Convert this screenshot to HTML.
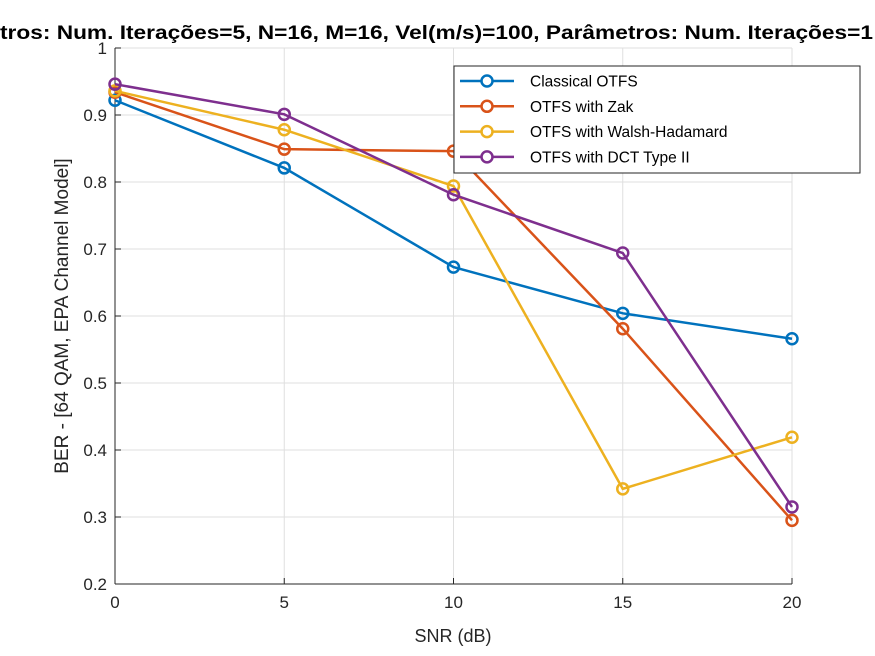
<!DOCTYPE html>
<html><head><meta charset="utf-8"><style>
body{margin:0;background:#fff}
svg{display:block;font-family:"Liberation Sans",Arial,sans-serif}
</style></head><body>
<svg id="chart" width="875" height="656" viewBox="0 0 875 656">
<rect width="875" height="656" fill="#fff"/>
<text x="0" y="39" font-size="19" font-weight="bold" textLength="873" lengthAdjust="spacingAndGlyphs" fill="#000">tros: Num. Iterações=5, N=16, M=16, Vel(m/s)=100, Parâmetros: Num. Iterações=1</text>
<g id="grid"></g><g id="axes"></g><g id="series"></g><g id="legend"></g>
<text x="453" y="642" font-size="18" text-anchor="middle" fill="#262626">SNR (dB)</text>
<text transform="translate(68,316) rotate(-90)" font-size="19" text-anchor="middle" fill="#262626">BER - [64 QAM, EPA Channel Model]</text>
</svg>
<script>
const snr=[0,5,10,15,20];
const xTicks=[0,5,10,15,20];
const yTicks=[0.2,0.3,0.4,0.5,0.6,0.7,0.8,0.9,1];
const seriesNames=["Classical OTFS","OTFS with Zak","OTFS with Walsh-Hadamard","OTFS with DCT Type II"];
const classical=[0.922,0.821,0.673,0.604,0.566];
const zak=[0.934,0.849,0.846,0.581,0.295];
const walsh=[0.936,0.878,0.794,0.342,0.419];
const dct=[0.946,0.901,0.781,0.694,0.315];
const colors=["#0072BD","#D95319","#EDB120","#7E2F8E"];
const NS="http://www.w3.org/2000/svg";
const L=115,R=792,T=48,B=584;
const xs=v=>L+(v-0)/20*(R-L);
const ys=v=>B-(v-0.2)/0.8*(B-T);
function mk(tag,attrs,parent){const e=document.createElementNS(NS,tag);for(const k in attrs)e.setAttribute(k,attrs[k]);parent.appendChild(e);return e;}
const grid=document.getElementById('grid'),axes=document.getElementById('axes'),ser=document.getElementById('series'),leg=document.getElementById('legend');
mk('rect',{x:L,y:T,width:R-L,height:B-T,fill:'#fff'},grid);
xTicks.forEach(t=>{const l=mk('line',{x1:xs(t),x2:xs(t),y1:T,y2:B,stroke:'#dfdfdf'},grid);

mk('line',{x1:xs(t),x2:xs(t),y1:B,y2:B-6,stroke:'#262626'},axes);
const tx=mk('text',{x:xs(t),y:B+24,'font-size':17,'text-anchor':'middle',fill:'#262626'},axes);tx.textContent=t;
});
yTicks.forEach(t=>{const l=mk('line',{x1:L,x2:R,y1:ys(t),y2:ys(t),stroke:'#dfdfdf'},grid);

mk('line',{x1:L,x2:L+6,y1:ys(t),y2:ys(t),stroke:'#262626'},axes);
const tx=mk('text',{x:L-8,y:ys(t)+6,'font-size':17,'text-anchor':'end',fill:'#262626'},axes);tx.textContent=(t===1?'1':t.toFixed(1));
});
mk('line',{x1:L,x2:R,y1:B,y2:B,stroke:'#262626'},axes);
mk('line',{x1:L,x2:L,y1:T,y2:B,stroke:'#262626'},axes);
[classical,zak,walsh,dct].forEach((d,i)=>{
const g=mk('g',{},ser);

mk('polyline',{points:d.map((v,j)=>xs(snr[j])+','+ys(v)).join(' '),fill:'none',stroke:colors[i],'stroke-width':2.5},g);
d.forEach((v,j)=>{const c=mk('circle',{cx:xs(snr[j]),cy:ys(v),r:5.5,fill:'none',stroke:colors[i],'stroke-width':2.5},g);
});
});
const lb=mk('rect',{x:454,y:66,width:406,height:107,fill:'#fff',stroke:'#262626'},leg);

seriesNames.forEach((n,i)=>{const y=81+i*25.3;
const g=mk('g',{},leg);

mk('line',{x1:460,x2:514,y1:y,y2:y,stroke:colors[i],'stroke-width':2.5},g);
mk('circle',{cx:487,cy:y,r:5.5,fill:'#fff',stroke:colors[i],'stroke-width':2.5},g);
const t=mk('text',{x:530,y:y+5.5,'font-size':15.5,fill:'#000'},g);t.textContent=n;});
</script>
</body></html>
